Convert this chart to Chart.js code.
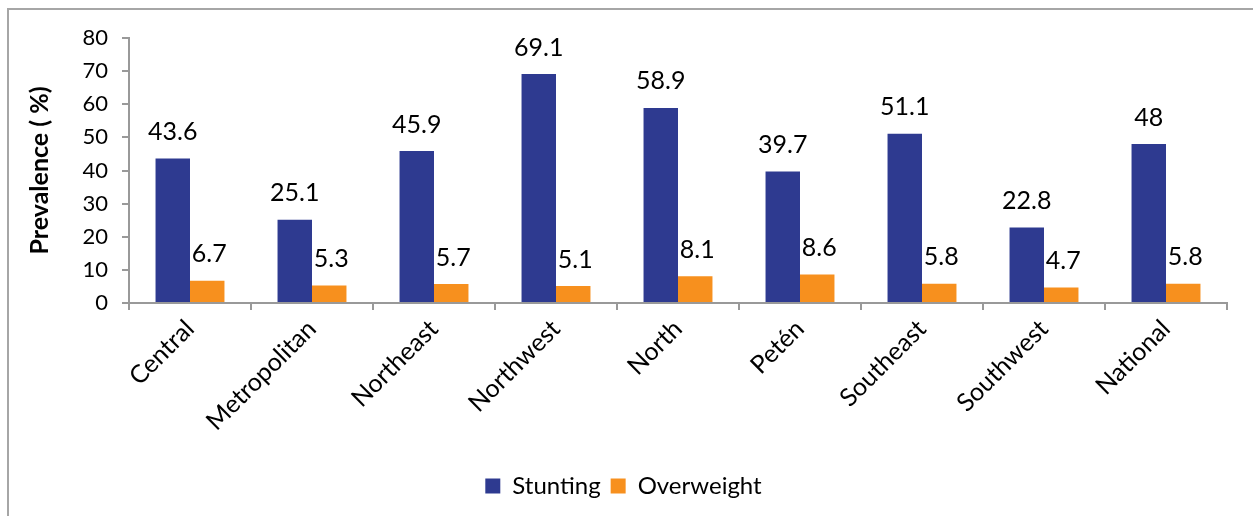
<!DOCTYPE html>
<html>
<head>
<meta charset="utf-8">
<script src="https://cdn.jsdelivr.net/npm/chart.js@4/dist/chart.umd.min.js"></script>
<style>
  html, body { margin:0; padding:0; background:#fff; overflow:hidden; }
  #frame { position:absolute; left:7px; top:8px; width:1300px; height:600px;
           border-top:2px solid #a6a6a6; border-left:2px solid #a6a6a6; pointer-events:none; }
  #grafico { position:absolute; left:0; top:0; }
</style>
</head>
<body>
<canvas id="grafico" width="1253" height="516"></canvas>
<div id="frame"></div>
<script>
// Dados
const regioes = ["Central","Metropolitan","Northeast","Northwest","North","Petén","Southeast","Southwest","National"];
const stunting = [43.6, 25.1, 45.9, 69.1, 58.9, 39.7, 51.1, 22.8, 48];
const overweight = [6.7, 5.3, 5.7, 5.1, 8.1, 8.6, 5.8, 4.7, 5.8];
const ticksY = [0,10,20,30,40,50,60,70,80];

const fonte = "Lato, 'Open Sans', sans-serif";

// Rótulos acima das barras
const rotulos = {
    id: "rotulos",
    afterDatasetsDraw(chart){
        const ctx = chart.ctx;
        ctx.save();
        ctx.font = "25px " + fonte;
        ctx.fillStyle = "#000";
        ctx.textAlign = "center";
        ctx.textBaseline = "bottom";
        chart.data.datasets.forEach((ds, i) => {
            const meta = chart.getDatasetMeta(i);
            meta.data.forEach((bar, j) => {
                ctx.fillText(String(ds.data[j]), bar.x + (i===1 ? 2 : 0), bar.y - 14);
            });
        });
        ctx.restore();
    }
};

new Chart(document.getElementById("grafico").getContext("2d"), {
    type: "bar",
    data: {
        labels: regioes,
        datasets: [
            { label: "Stunting", data: stunting, backgroundColor: "#2e3a90", borderWidth: 0 },
            { label: "Overweight", data: overweight, backgroundColor: "#f7901e", borderWidth: 0 }
        ]
    },
    options: {
        responsive: false,
        animation: false,
        devicePixelRatio: 1,
        layout: { padding: { left: 20, top: 38, right: 26, bottom: 8 } },
        datasets: { bar: { categoryPercentage: 0.565, barPercentage: 1 } },
        plugins: {
            tooltip: { enabled: false },
            legend: {
                position: "bottom",
                labels: {
                    boxWidth: 15, boxHeight: 15, padding: 10,
                    color: "#000",
                    font: { family: fonte, size: 24 }
                }
            }
        },
        scales: {
            x: {
                grid: { drawOnChartArea: false, drawTicks: true, tickLength: 7, color: "#999", lineWidth: 2 },
                border: { color: "#999", width: 2 },
                ticks: {
                    color: "#000", minRotation: 45, maxRotation: 45, padding: 4,
                    font: { family: fonte, size: 25 }
                },
                afterFit(scale){ scale.height = 161; }
            },
            y: {
                min: 0, max: 80,
                afterBuildTicks(scale){ scale.ticks = ticksY.map(v => ({ value: v })); },
                grid: { drawOnChartArea: false, drawTicks: true, tickLength: 7, color: "#999", lineWidth: 2 },
                border: { color: "#999", width: 2 },
                ticks: { color: "#000", padding: 14, font: { family: fonte, size: 22 } },
                title: {
                    display: true, text: "Prevalence ( %)", color: "#000",
                    padding: { top: 5, bottom: 0 },
                    font: { family: fonte, size: 25, weight: "bold" }
                },
                afterFit(scale){ scale.width = 109; }
            }
        }
    },
    plugins: [rotulos]
});
</script>
</body>
</html>
